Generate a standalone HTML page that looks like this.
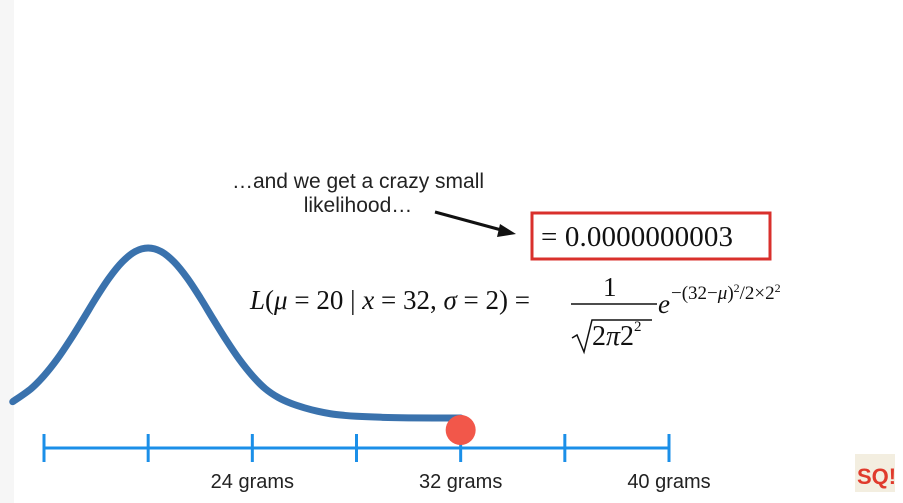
<!DOCTYPE html>
<html><head><meta charset="utf-8"><style>
html,body{margin:0;padding:0;background:#fff}
#wrap{position:relative;width:903px;height:503px;overflow:hidden;background:#fff}
svg{position:absolute;left:0;top:0}
</style></head><body>
<div id="wrap">
<svg id="chart" width="903" height="503">
  <rect x="0" y="0" width="14" height="503" fill="#f6f6f6"/>
  <g id="axis"></g>
  <path id="curve" fill="none" stroke="#3a72ad" stroke-width="7" stroke-linecap="round" stroke-linejoin="round"/>
  <circle id="dot" r="15" fill="#f2574a"/>
  <text x="358" y="188" font-family="Liberation Sans, sans-serif" font-size="21" text-anchor="middle" fill="#222">…and we get a crazy small</text>
  <text x="358" y="212" font-family="Liberation Sans, sans-serif" font-size="21" text-anchor="middle" fill="#222">likelihood…</text>
  <g>
    <line x1="435" y1="212" x2="505" y2="231" stroke="#111" stroke-width="3"/>
    <polygon points="516,234 500,224 497,237" fill="#111"/>
  </g>
  <rect x="532" y="213" width="238" height="46" fill="none" stroke="#d9302c" stroke-width="3"/>
  <text x="541" y="246" font-family="Liberation Serif, serif" font-size="29" textLength="192" fill="#111">= 0.0000000003</text>
  <g font-family="Liberation Serif, serif" fill="#111">
    <text x="250" y="309" font-size="27"><tspan font-style="italic">L</tspan>(<tspan font-style="italic">μ</tspan> = 20 | <tspan font-style="italic">x</tspan> = 32, <tspan font-style="italic">σ</tspan> = 2) =</text>
    <text x="603" y="296" font-size="27">1</text>
    <line x1="571" y1="304" x2="657" y2="304" stroke="#111" stroke-width="1.5"/>
    <path d="M572,338 L577,335 L584,352 L592,320 L652,320" fill="none" stroke="#111" stroke-width="1.5"/>
    <text x="592" y="345" font-size="28">2<tspan font-style="italic">π</tspan>2</text>
    <text x="634" y="331" font-size="15">2</text>
    <text x="658" y="313" font-size="27" font-style="italic">e</text>
    <text x="671" y="299" font-size="19">−(32−<tspan font-style="italic">μ</tspan>)<tspan font-size="12" dy="-7">2</tspan><tspan dy="7">/2×2</tspan><tspan font-size="12" dy="-7">2</tspan></text>
  </g>
  <g>
    <rect x="855" y="454" width="40" height="38" fill="#f3eee0"/>
    <text x="857" y="484" font-family="Liberation Sans, sans-serif" font-weight="bold" font-size="22" fill="#e03a2c">SQ!</text>
  </g>
</svg>
</div>
<script>
const tickGrams = [16, 20, 24, 28, 32, 36, 40];
const tickLabels = ["", "", "24 grams", "", "32 grams", "", "40 grams"];
const curveGrams = [14.8, 15.5, 16, 16.5, 17, 17.5, 18, 18.5, 19, 19.5, 20, 20.5, 21, 21.5, 22, 22.5, 23, 23.5, 24, 24.5, 25, 25.5, 26, 26.5, 27, 27.5, 28, 29, 30, 31, 32];
const curveValues = [0.096, 0.172, 0.249, 0.345, 0.458, 0.581, 0.707, 0.823, 0.917, 0.979, 1.0, 0.979, 0.917, 0.823, 0.707, 0.581, 0.458, 0.345, 0.249, 0.172, 0.12, 0.085, 0.06, 0.04, 0.025, 0.016, 0.01, 0.004, 0.001, 0.0, 0.0];
const observedGrams = [32];
const observedValues = [0.0];

const X0 = 44, X1 = 669, G0 = 16, G1 = 40;
const Y0 = 418, YH = 170;
function xs(g){ return X0 + (g - G0) / (G1 - G0) * (X1 - X0); }
function ys(v){ return Y0 - v * YH; }
const NS = "http://www.w3.org/2000/svg";
const axis = document.getElementById("axis");
const axY = 448;
const base = document.createElementNS(NS, "line");
base.setAttribute("x1", xs(G0)); base.setAttribute("x2", xs(G1));
base.setAttribute("y1", axY); base.setAttribute("y2", axY);
base.setAttribute("stroke", "#1b8fe8"); base.setAttribute("stroke-width", "3");


axis.appendChild(base);
tickGrams.forEach((g, i) => {
  const t = document.createElementNS(NS, "line");
  t.setAttribute("x1", xs(g)); t.setAttribute("x2", xs(g));
  t.setAttribute("y1", axY - 14); t.setAttribute("y2", axY + 14);
  t.setAttribute("stroke", "#1b8fe8"); t.setAttribute("stroke-width", "3");
  
  
  axis.appendChild(t);
  if (tickLabels[i]) {
    const l = document.createElementNS(NS, "text");
    l.setAttribute("x", xs(g)); l.setAttribute("y", 488);
    l.setAttribute("text-anchor", "middle");
    l.setAttribute("font-family", "Liberation Sans, sans-serif");
    l.setAttribute("font-size", "20"); l.setAttribute("fill", "#222");
    l.textContent = tickLabels[i];
    
    
    axis.appendChild(l);
  }
});
const pts = curveGrams.map((g, i) => [xs(g), ys(curveValues[i])]);
let d = "M" + pts[0][0] + "," + pts[0][1];
for (let i = 0; i < pts.length - 1; i++) {
  const p0 = pts[Math.max(0, i - 1)], p1 = pts[i], p2 = pts[i + 1], p3 = pts[Math.min(pts.length - 1, i + 2)];
  const c1 = [p1[0] + (p2[0] - p0[0]) / 6, p1[1] + (p2[1] - p0[1]) / 6];
  const c2 = [p2[0] - (p3[0] - p1[0]) / 6, p2[1] - (p3[1] - p1[1]) / 6];
  d += " C" + c1 + " " + c2 + " " + p2;
}
document.getElementById("curve").setAttribute("d", d);
const dot = document.getElementById("dot");
dot.setAttribute("cx", xs(observedGrams[0]));
dot.setAttribute("cy", ys(observedValues[0]) + 12);
</script>
</body></html>
